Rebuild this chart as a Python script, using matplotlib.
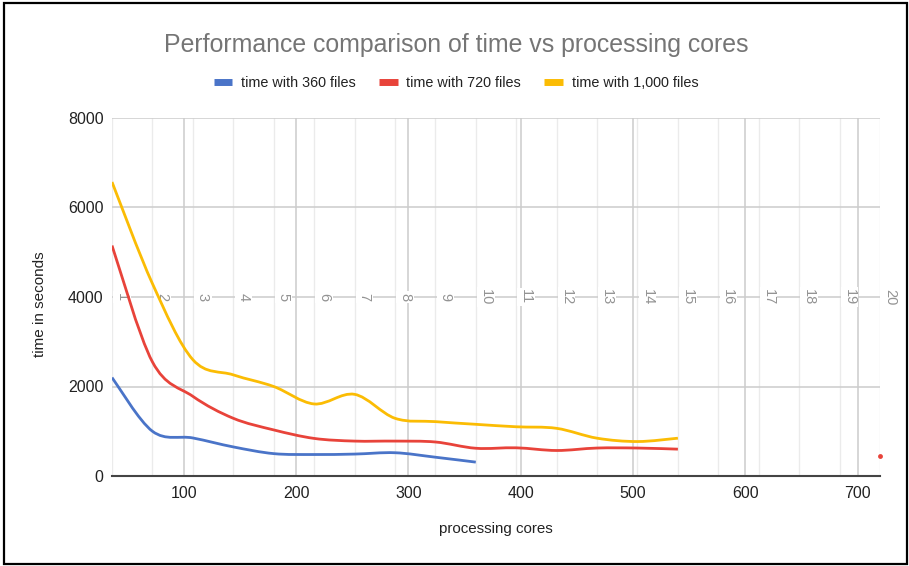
import numpy as np
import matplotlib
matplotlib.use('Agg')
import matplotlib.pyplot as plt
from matplotlib.path import Path
from matplotlib.patches import PathPatch, Rectangle
from matplotlib.lines import Line2D

plt.rcParams['font.family'] = ['Liberation Sans', 'DejaVu Sans']

# ---------------- data ----------------
cores = [36, 72, 108, 144, 180, 216, 252, 288, 324, 360,
         396, 432, 468, 504, 540, 576, 612, 648, 684, 720]
core_labels = ['1', '2', '3', '4', '5', '6', '7', '8', '9', '10',
               '11', '12', '13', '14', '15', '16', '17', '18', '19', '20']
time_360 = [2200, 1000, 850, 650, 500, 480, 490, 520, 420, 310,
            None, None, None, None, None, None, None, None, None, None]
time_720 = [5150, 2550, 1780, 1290, 1030, 840, 780, 780, 760, 620,
            630, 570, 625, 625, 600, None, None, None, None, 447]
time_1000 = [6570, 4300, 2600, 2260, 2000, 1610, 1825, 1290, 1215, 1155,
             1100, 1065, 845, 770, 845, None, None, None, None, None]
series_names = ['time with 360 files', 'time with 720 files', 'time with 1,000 files']
series_colors = ['#4a74c8', '#e8433a', '#fbbc04']
x_ticks = [100, 200, 300, 400, 500, 600, 700]
y_ticks = [0, 2000, 4000, 6000, 8000]

# ---------------- figure ----------------
W, H = 909, 566
fig = plt.figure(figsize=(W / 100, H / 100), dpi=100)
ax = fig.add_axes([112 / W, 1 - 476 / H, (880 - 112) / W, (476 - 118) / H])

ax.set_xlim(36, 720)
ax.set_ylim(0, 8000)
ax.set_xticks(x_ticks)
ax.set_xticks(cores, minor=True)
ax.set_yticks(y_ticks)
ax.grid(axis='x', which='major', color='#cccccc', lw=1.1, zorder=0)
ax.grid(axis='x', which='minor', color='#ebebeb', lw=1.0, zorder=0)
ax.grid(axis='y', which='major', color='#cccccc', lw=1.1, zorder=0)
ax.set_axisbelow(True)
for s in ['top', 'right', 'left']:
    ax.spines[s].set_visible(False)
ax.spines['bottom'].set_color('#444444')
ax.spines['bottom'].set_linewidth(1.5)
ax.spines['bottom'].set_zorder(3)
ax.tick_params(axis='both', which='both', length=0, labelsize=11.5, colors='#222222')
ax.tick_params(axis='x', pad=7)
ax.tick_params(axis='y', pad=6)

# rotated category labels at y=4000
for x, lab in zip(cores, core_labels):
    ax.annotate(lab, xy=(x, 4000), xytext=(7.2, 0), textcoords='offset points',
                rotation=-90, ha='center', va='center', color='#939393', fontsize=10.5,
                bbox=dict(boxstyle='square,pad=0.12', fc='white', ec='none'),
                zorder=2, annotation_clip=False)


def runs(xs, ys):
    out, cur = [], []
    for x, y in zip(xs, ys):
        if y is None:
            if cur:
                out.append(cur)
            cur = []
        else:
            cur.append((x, y))
    if cur:
        out.append(cur)
    return out


def smooth_path(pts):
    pts = np.asarray(pts, dtype=float)
    n = len(pts)
    verts = [pts[0]]
    codes = [Path.MOVETO]
    for i in range(n - 1):
        p0 = pts[max(i - 1, 0)]
        p1 = pts[i]
        p2 = pts[i + 1]
        p3 = pts[min(i + 2, n - 1)]
        c1 = p1 + (p2 - p0) / 6.0
        c2 = p2 - (p3 - p1) / 6.0
        verts += [c1, c2, p2]
        codes += [Path.CURVE4] * 3
    return Path(verts, codes)


for ys, col in zip([time_360, time_720, time_1000], series_colors):
    for run in runs(cores, ys):
        if len(run) == 1:
            ax.plot([run[0][0]], [run[0][1]], 'o', ms=3.5, color=col, mec='none',
                    clip_on=False, zorder=4)
        else:
            patch = PathPatch(smooth_path(run), fill=False, ec=col, lw=2.0,
                              capstyle='butt', joinstyle='round', zorder=4)
            ax.add_patch(patch)

# texts
fig.text(456 / W, 1 - 45 / H, 'Performance comparison of time vs processing cores',
         ha='center', va='center', fontsize=17.9, color='#757575')
fig.text(40 / W, 1 - 304 / H, 'time in seconds', rotation=90, ha='center', va='center',
         fontsize=11, color='#222222')
fig.text(496 / W, 1 - 529 / H, 'processing cores', ha='center', va='center',
         fontsize=10.9, color='#222222')

handles = [Line2D([0], [0], color=c, lw=5, solid_capstyle='butt') for c in series_colors]
fig.legend(handles, series_names, loc='center', bbox_to_anchor=(456 / W, 1 - 83 / H),
           ncol=3, frameon=False, fontsize=10.4, handlelength=1.3, handletextpad=0.6,
           columnspacing=1.6, labelcolor='#222222')

# outer border
fig.patches.append(Rectangle((3.5 / W, 2.5 / H), 903 / W, 561 / H, transform=fig.transFigure,
                             fill=False, ec='black', lw=1.6))

fig.savefig('out.png', dpi=100)
